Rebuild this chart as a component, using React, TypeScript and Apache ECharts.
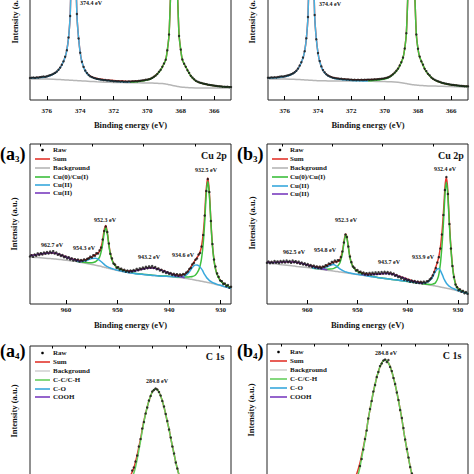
import React, { useEffect, useRef } from "react";
import * as echarts from "echarts";

// ---------------- tick values ----------------
const TOP_MAJOR = [366, 368, 370, 372, 374, 376];
const TOP_MINOR = [365, 367, 369, 371, 373, 375, 377];
const CU_MAJOR = [930, 940, 950, 960];
const CU_MINOR = [935, 945, 955, 965];
const C_MAJOR = [282, 284, 286, 288, 290];
const C_MINOR = [281, 283, 285, 287, 289, 291];

// ---------------- panel a2 (top left) ----------------
const A2_E = [377, 376.5, 376, 375.6, 375.3, 375.1, 374.9, 374.8, 374.7, 374.6, 374.5, 374.4, 374.3, 374.2, 374.1, 374.0, 373.9, 373.7, 373.4, 373, 372.5, 372, 371.5, 371, 370.5, 370, 369.7, 369.4, 369.2, 369.1, 368.9, 368.8, 368.7, 368.6, 368.5, 368.4, 368.3, 368.2, 368.1, 368.0, 367.9, 367.7, 367.6, 367.4, 367.1, 366.8, 366.3, 365.8, 365.4, 365];
const A2_BG = [21, 21, 21, 20.8, 20.5, 20.3, 20.1, 20, 19.9, 19.8, 19.7, 19.6, 19.5, 19.4, 19.3, 19.2, 19.1, 18.9, 18.6, 18.2, 17.8, 17.5, 17.4, 17.3, 17.2, 17, 16.9, 16.7, 16.5, 16.4, 16, 15.7, 15.3, 15, 14.6, 14.2, 13.9, 13.6, 13.3, 13, 12.8, 12.5, 12.4, 12.2, 12, 12, 12, 12, 12, 12];
const A2_BLUE = [21.9, 22.3, 23.2, 26, 30, 35, 43, 50, 62, 85, 150, 220, 150, 85, 62, 47, 38, 29, 23.5, 21, 19.8, 18.8, 18.2, 17.9];
const A2_GREEN = [17.8, 18.6, 20, 22, 26, 30, 33, 40, 50, 65, 110, 170, 240, 170, 110, 65, 50, 40, 33, 30, 24, 19, 17, 15, 13.8, 13.3, 13];
const A2_SUM = [22, 22.4, 23.3, 26.1, 30.1, 35.1, 43.1, 50.1, 62.1, 85.1, 150.1, 220, 150.1, 85.1, 62.1, 47.1, 38.1, 29.2, 23.8, 21.4, 20.3, 19.4, 18.9, 18.4, 18.9, 20.2, 22.2, 26.1, 30.1, 33.1, 40.1, 50, 65, 110, 170, 240, 170, 110, 65, 50, 40, 33, 30, 24, 19, 17, 15, 13.8, 13.3, 13];
const A2_RAW = [22, 22.3, 22.5, 22.1, 22.6, 22.4, 22.9, 23.1, 23.5, 23.3,
  23.8, 24.2, 24.9, 25.4, 26.3, 27.1, 28.4, 30.2, 32.4, 35.3,
  38.6, 43.2, 49.8, 62.5, 84, 148, 218, 152, 86, 61.5,
  47.3, 38.2, 33.1, 29.4, 27, 25, 23.6, 22.9, 22.1, 21.6,
  21.1, 20.9, 20.5, 20.3, 19.9, 20, 19.5, 19.6, 19.1, 19.2,
  18.8, 18.9, 18.6, 18.8, 18.4, 18.7, 18.3, 18.5, 18.3, 18.6,
  18.4, 18.7, 18.6, 18.9, 18.8, 19.1, 19.2, 19.6, 19.8, 20.2,
  20.4, 20.8, 21.3, 22.1, 23.2, 24.4, 26, 28.2, 30.3, 33.2,
  36.5, 40.3, 49.6, 65.5, 108, 168, 236, 172, 111, 64,
  50.4, 40.5, 36.2, 33.3, 29.8, 27.1, 24.2, 22.4, 20.7, 19.3,
  18.4, 17.6, 17.1, 16.6, 16.2, 15.9, 15.5, 15.1, 14.9, 14.6,
  14.4, 14.1, 13.9, 13.7, 13.6, 13.3, 13.3, 13.1, 13.2, 12.9,
  12.9];

// ---------------- panel b2 (top right) ----------------
const B2_BG = [21, 21, 21, 20.8, 20.6, 20.4, 20.2, 20.1, 20, 19.9, 19.8, 19.7, 19.6, 19.5, 19.4, 19.3, 19.3, 19.2, 19.1, 19, 19, 19, 18.9, 18.8, 18.6, 18.4, 18.2, 18, 17.7, 17.5, 17, 16.7, 16.4, 16.1, 15.8, 15.5, 15.3, 15.1, 14.9, 14.8, 14.6, 14.4, 14.3, 14.1, 14, 13.8, 13.5, 13.3, 13.1, 13];
const B2_BLUE = [21.9, 22.3, 23.2, 25.5, 29, 34, 42, 49, 61, 84, 150, 225, 150, 84, 61, 47, 38.5, 29.5, 24, 21.5, 20.3, 19.6, 19.2, 19];
const B2_GREEN = [19.2, 19.8, 21, 23, 27, 31, 34, 42, 51, 66, 110, 170, 240, 170, 110, 66, 51, 43, 35, 31, 26, 21, 18.5, 16, 14.8, 14, 13.6];
const B2_SUM = [22, 22.4, 23.3, 25.6, 29.1, 34.1, 42.1, 49.1, 61.1, 84.1, 150, 225, 150, 84, 61, 47.2, 38.7, 29.7, 24.3, 21.9, 20.8, 20.2, 20, 20.2, 20.5, 21.4, 23.3, 27.2, 31.2, 34.2, 42.2, 51.2, 66.2, 110, 170, 240, 170, 110, 66, 51, 43, 35, 31, 26, 21, 18.5, 16, 14.8, 14, 13.6];
const B2_RAW = [22.3, 22.1, 22.6, 22.4, 22.8, 22.5, 23, 23.2, 23.6, 23.5,
  23.9, 24.3, 24.8, 25.1, 25.9, 26.6, 27.8, 29.3, 31.4, 34.4,
  37.8, 42.4, 48.8, 61.6, 83, 147, 222, 151, 85, 60.8,
  46.9, 38.9, 33.6, 29.9, 27.6, 25.8, 24.5, 23.6, 22.9, 22.3,
  22, 21.6, 21.5, 21.1, 21.2, 20.8, 20.9, 20.5, 20.6, 20.2,
  20.4, 20, 20.3, 19.9, 20.2, 19.9, 20.2, 20, 20.3, 20.1,
  20.4, 20.2, 20.5, 20.4, 20.7, 20.6, 20.9, 21, 21.3, 21.4,
  21.7, 22.1, 22.6, 23.4, 24.5, 25.8, 27.4, 29.3, 31.4, 34.5,
  37.8, 42.4, 51.5, 66.8, 109, 169, 238, 171, 112, 65.5,
  51.2, 43.4, 38.6, 35.4, 31.3, 28.9, 26.3, 24.6, 22.5, 21.3,
  20.2, 19.4, 18.7, 18.1, 17.5, 17, 16.6, 16.2, 15.9, 15.6,
  15.3, 15.1, 14.9, 14.7, 14.5, 14.3, 14.1, 14, 13.8, 13.8,
  13.6];

// ---------------- panel a3 (Cu 2p, left) ----------------
const A3_E = [967, 966, 965, 964, 963, 962.7, 962, 961, 960, 959, 958, 957, 956, 955.5, 955, 954.3, 954, 953.5, 953.1, 952.9, 952.7, 952.5, 952.3, 952.1, 951.9, 951.7, 951.5, 951.3, 951, 950.5, 950, 949, 948, 947, 946, 945, 944, 943.2, 942, 941, 940, 939, 938, 937, 936.5, 936, 935.5, 935, 934.6, 934.2, 933.8, 933.5, 933.3, 933.1, 932.9, 932.7, 932.5, 932.3, 932.1, 931.9, 931.7, 931.5, 931.2, 930.9, 930.5, 930, 929.5, 929, 928.5, 928];
const A3_BG = [47, 46.6, 46.2, 45.8, 45.4, 45.3, 45, 44.4, 43.8, 43.1, 42.5, 41.5, 40.5, 40, 39.5, 38.8, 38.5, 37.9, 37.4, 37.1, 36.9, 36.6, 36.4, 36.1, 35.9, 35.6, 35.4, 35.1, 34.8, 34.1, 33.5, 32.5, 31.5, 30.7, 30, 29.5, 29, 28.6, 28, 27.7, 27.5, 27, 26.5, 25.8, 25.4, 25, 24.5, 24, 23.6, 23.2, 22.8, 22.5, 22.3, 22.1, 21.9, 21.7, 21.5, 21.3, 21.1, 20.9, 20.6, 20.4, 20, 19.6, 19.1, 18.5, 17.7, 17, 16.2, 15.5];
const A3_GREEN = [42.8, 42, 41.4, 41.2, 41.2, 42.3, 43.5, 46.9, 54.4, 60.1,
  67.9, 73.6, 76.4, 73.1, 66.9, 58.6, 52.4, 47.6, 42.8, 38.4,
  36.1, 33.6, 32.1, 31.1, 30.3, 29.7, 29.2, 28.8, 28.2, 28,
  27.8, 27.4, 27, 26.95, 26.9, 27.2, 27.5, 28.5, 30.9, 34.7,
  42.8, 54.5, 66.3, 82.1, 101.9, 115.7, 122.5, 115.3, 101.1, 80.9,
  64.6, 52.4, 40, 32.6, 27.1, 23, 20.7, 19.2, 17.7, 16.6];
const A3_CYAN = [42.8, 42.4, 43.4, 44.6, 45.5, 45.8, 45.3, 43.7, 42, 41,
  40.1, 39.2, 38.4, 37.7, 37.2, 36.6, 36.2, 35.7, 35.3, 34.4,
  33.7, 32.6, 31.6, 30.7, 30, 29.5, 29, 28.6, 28, 27.7,
  27.55, 27.2, 27.2, 28.1, 29.9, 32.8, 36.5, 38.8, 39.1, 38,
  35.6, 33.3, 31.1, 29.3, 27.9, 26.2, 25.1, 24.1, 23.1, 22.5,
  21.8, 21.3, 20.7, 20.1, 19.4, 18.7, 17.8, 17.05, 16.2, 15.5];
const A3_PURPLE1 = [48.5, 49.1, 49.9, 50.8, 51.2, 51.3, 50.6, 48.9, 47, 45.1, 43.7, 42.1];
const A3_PURPLE2 = [32.3, 32.7, 33.8, 35.1, 36, 36.1, 34.6, 32.7, 30.7, 28.8, 27.5, 26.3];
const A3_SUM = [48.5, 49.1, 49.9, 50.8, 51.2, 51.3, 50.6, 48.9, 47, 45.3,
  44.3, 43.5, 44.6, 46, 47.2, 49.3, 50.3, 52.7, 59, 64,
  71.1, 76.2, 78.4, 74.7, 68.2, 59.6, 53.2, 48.2, 43.3, 38.7,
  36.3, 34.1, 32.9, 33.1, 34.1, 35.2, 36.1, 36.25, 34.8, 33,
  31.05, 29.4, 28.8, 29.75, 31.4, 35, 39.5, 43.3, 46.4, 49.5,
  55.6, 65.3, 75.1, 89.3, 107.9, 120.2, 126.1, 118.1, 103.1, 82.5,
  65.8, 53.3, 40.7, 33.1, 27.4, 23.2, 20.8, 19.2, 17.7, 16.65];
const A3_RAW = [47.5, 48.8, 47.2, 49.5, 48.3, 50.6, 49, 50.8, 49.6, 51.5,
  50.2, 52, 50.5, 52.4, 51, 52.8, 50.4, 51.5, 49.2, 50,
  48.1, 48.9, 46.8, 47.6, 45.5, 46.8, 44.6, 45.7, 43.5, 44.8,
  43.2, 44.5, 42.6, 44, 43.1, 44.6, 43.5, 45.2, 45.6, 47.3,
  46.5, 48.8, 48.3, 50.8, 50.5, 53.6, 56.4, 64.5, 73, 77.5,
  72, 60.5, 50.2, 45.6, 40.5, 39.4, 36.2, 36.8, 34.5, 35.3,
  33.4, 34.2, 32.3, 33.5, 32, 33.4, 32.6, 34, 33.2, 35.1,
  33.8, 35.6, 34.7, 36.4, 35.3, 37.2, 35.8, 37.6, 36.3, 37.9,
  36.1, 37, 34.8, 35.6, 33.5, 34.2, 32.1, 33, 31, 31.8,
  30.2, 30.9, 29.1, 30.2, 28.6, 29.8, 28.2, 29.6, 28.6, 30,
  29.4, 31.3, 32.4, 35, 36.2, 39.6, 41.1, 44.2, 45.5, 49.5,
  51, 57.5, 69, 88.5, 113, 125, 112, 83, 60, 44.5,
  37.5, 30.6, 27.2, 23.5, 22.8, 20.1, 20.4, 17.8, 18.9, 16.3,
  17.2];

// ---------------- panel b3 (Cu 2p, right) ----------------
const B3_E = [968, 967, 966, 965, 964, 963, 962.5, 962, 961, 960, 959, 958, 957, 956, 955.5, 954.8, 954.3, 954, 953.5, 953.1, 952.9, 952.7, 952.5, 952.3, 952.1, 951.9, 951.7, 951.5, 951.3, 951, 950.5, 950, 949, 948, 947, 946, 945, 944, 943.7, 943, 942, 941, 940, 939, 938, 937, 936.5, 936, 935.5, 935, 934.5, 933.9, 933.5, 933.2, 933, 932.8, 932.6, 932.5, 932.3, 932.1, 932, 931.8, 931.6, 931.4, 931.1, 930.8, 930.4, 930, 929.5, 929, 928.5, 928];
const B3_BG = [41, 40.4, 39.9, 39.3, 38.8, 38.2, 37.9, 37.6, 37.1, 36.5, 35.8, 35.1, 34.4, 33.8, 33.4, 32.9, 32.6, 32.4, 32, 31.8, 31.6, 31.5, 31.3, 31.2, 31.1, 30.9, 30.8, 30.6, 30.5, 30.3, 29.9, 29.5, 28.8, 28, 27.3, 26.5, 25.8, 25.2, 25, 24.5, 23.8, 23.2, 22.5, 21.7, 20.9, 20.1, 19.7, 19.3, 18.9, 18.5, 18, 17.4, 17, 16.7, 16.5, 16.3, 16.1, 16, 15.8, 15.6, 15.5, 15.3, 15.1, 14.9, 14.6, 14.2, 13.6, 13, 12.4, 11.8, 11.1, 10.5];
const B3_GREEN = [36.05, 35.4, 34.9, 34.8, 34.9, 35.4, 36.6, 37.6, 41, 47.8,
  53.6, 60.5, 66.3, 69.2, 66.1, 59.9, 52.8, 46.6, 42.5, 38.3,
  34.7, 32.7, 30.3, 28.8, 27.8, 26.6, 25.9, 25.3, 25.1, 24.6,
  23.9, 23.3, 22.6, 21.7, 21, 20.25, 19.9, 19.65, 19.6, 19.9,
  21, 27.4, 40, 56.7, 71.5, 89.3, 108.1, 115, 121.8, 114.6,
  107.5, 88.3, 70.1, 54.9, 37.6, 26.7, 18.6, 15.5, 13.6, 12.4,
  11.4, 10.7];
const B3_CYAN = [36, 35.55, 35.6, 37.3, 38.5, 39.4, 38.4, 37.2, 35.2, 34,
  33.3, 32.9, 32.4, 32, 31.8, 31.45, 31.25, 31, 30.85, 30.6,
  30.1, 29.65, 28.9, 28, 27.3, 26.5, 25.8, 25.2, 25, 24.5,
  23.9, 23.3, 22.65, 21.9, 21.3, 21.1, 21.3, 22.1, 23.9, 27.5,
  32.5, 35.4, 33.5, 30.2, 28, 25.3, 23.4, 22.5, 20.8, 19.6,
  19.1, 18.1, 17.3, 16.7, 15.9, 15.2, 14.3, 13.45, 12.7, 12,
  11.2, 10.6];
const B3_PURPLE1 = [41.8, 41.6, 41.7, 41.9, 42.2, 42.1, 41.9, 41.5, 40.5, 39.1, 37.6, 36.3, 35.1, 34.2];
const B3_PURPLE2 = [29.4, 29.2, 29.5, 29.8, 30.4, 30.6, 30.5, 29.7, 28, 26.2, 24.4, 22.8, 21.5, 20.4];
const B3_SUM = [41.8, 41.6, 41.7, 41.9, 42.2, 42.1, 42, 41.6, 40.6, 39.2,
  38.05, 37.05, 36.8, 38.7, 40.2, 41.9, 42.4, 42.4, 44.2, 50,
  55.3, 61.9, 67.4, 70, 66.8, 60.45, 53.25, 47, 42.85, 38.6,
  34.9, 33.15, 31, 30, 30, 30.1, 30.6, 30.8, 30.7, 29.95,
  28.4, 26.6, 24.85, 23, 22, 21.55, 21.5, 22.45, 24.6, 28.9,
  35.5, 45.4, 56.5, 70.2, 83, 98.3, 115.4, 121.5, 126.8, 118.6,
  111.1, 91.1, 72.3, 56.7, 38.9, 27.7, 19.3, 15.95, 13.9, 12.6,
  11.5, 10.8];
const B3_RAW = [41.2, 42.5, 40.8, 42.2, 41, 42.9, 41.3, 42.6, 40.9, 43,
  41.6, 43.2, 41.5, 43.4, 41.8, 42.9, 41.2, 43.5, 41.7, 42.8,
  41, 42.3, 40.2, 41.5, 39.6, 40.7, 38.8, 39.9, 37.8, 38.9,
  37.2, 38.3, 36.4, 37.6, 36.1, 37.3, 35.8, 37.5, 37.1, 38.8,
  38.2, 40.5, 39.8, 42.1, 41.3, 43.4, 42, 43.8, 43.6, 47,
  52.5, 61.5, 69.5, 67, 57.5, 47.5, 41.8, 37.5, 36.2, 33.4,
  33.9, 31.6, 32.3, 30.4, 31.5, 29.6, 30.8, 29.2, 31.1, 29.5,
  31.3, 29.8, 31.6, 29.9, 31.7, 30.2, 32, 30.4, 32.2, 30.6,
  31.9, 30.1, 31.5, 29.6, 30.4, 28.2, 29, 26.9, 27.5, 25.6,
  26.5, 24.3, 25.2, 23.4, 24.2, 22.3, 23.4, 21.8, 22.9, 21.2,
  22.5, 20.9, 22.2, 20.8, 22.3, 21, 22.7, 22.8, 24.6, 25.8,
  28.6, 32, 36, 41.5, 46.8, 55.5, 69.5, 89, 114, 127,
  110, 80, 55.5, 38, 27, 19.5, 16.8, 13.8, 14.6, 12.2,
  13.1, 10.8, 11.9, 10.2];

// ---------------- panel a4 (C 1s, left) ----------------
const A4_E = [287, 286.8, 286.6, 286.4, 286.2, 286.1, 286.0, 285.9, 285.8, 285.7, 285.6, 285.5, 285.4, 285.3, 285.2, 285.1, 285.0, 284.9, 284.8, 284.7, 284.6, 284.5, 284.4, 284.3, 284.2, 284.1, 284.0, 283.9, 283.8, 283.7, 283.6, 283.5, 283.4, 283.2, 283.0, 282.8];
const A4_GREEN = [-28, -20, -14, -6, 1, 5, 11, 19, 28, 37, 47, 56, 64, 71, 77, 82, 86, 88.3, 89, 88.3, 86, 82, 77, 71, 64, 56, 49, 40, 32, 24, 16, 9, 3, -8, -18, -28];
const A4_SUM = [-18, -12, -6, -1, 6, 10, 16, 23, 31, 39, 48.5, 57, 64.2, 71.1, 77, 82, 86, 88.3, 89, 88.3, 86, 82, 77, 71, 64, 56, 49, 40, 32, 24, 16, 9, 3, -8, -18, -28];
const A4_MINOR_E = [289, 287.5, 286.3, 285.2, 284];
const A4_CO = [-97, -85, -62, -85, -97];
const A4_COOH = [-98, -90, -96, -98, -98];
const A4_BG_E = [292.3, 280.3];
const A4_BG = [-98, -99];
const A4_RAW = [2, 7.5, 10.5, 16.5, 22.5, 31.5, 39, 49.5, 56, 64.5, 70.5, 77.5, 82, 86.5, 88, 89.5, 88.5, 86, 82.5, 77, 71.5, 64, 57, 48.5, 40.5, 31.5, 24.5, 15.5, 9.5, 2.5, -4];

// ---------------- panel b4 (C 1s, right) ----------------
const B4_E = [287, 286.8, 286.6, 286.5, 286.4, 286.3, 286.2, 286.1, 286.0, 285.9, 285.8, 285.7, 285.6, 285.5, 285.4, 285.3, 285.2, 285.1, 285.0, 284.9, 284.8, 284.7, 284.6, 284.5, 284.4, 284.3, 284.2, 284.1, 284.0, 283.9, 283.8, 283.7, 283.6, 283.5, 283.4, 283.3, 283.2, 283.1, 283.0, 282.8, 282.6];
const B4_GREEN = [-22, -12, -4, -2, 4, 11, 20, 29, 38, 48, 59.5, 68.5, 77.5, 86, 93.5, 100.5, 106.5, 111.5, 115, 117.2, 118, 117.2, 115, 111.5, 106.5, 100.5, 93.5, 86, 77.5, 68.5, 59.5, 48, 38, 29, 20, 11, 4, -2, -6, -12, -22];
const B4_SUM = [-14, -5, 1, 4, 9, 15, 22.5, 30.5, 39, 48.5, 59.8, 68.6, 77.5, 86, 93.5, 100.5, 106.5, 111.5, 115, 117.2, 118, 117.2, 115, 111.5, 106.5, 100.5, 93.5, 86, 77.5, 68.5, 59.5, 48, 38, 29, 20, 11, 4, -2, -6, -12, -22];
const B4_MINOR_E = [289, 287.5, 286.3, 285.2, 284];
const B4_CO = [-97, -84, -60, -84, -97];
const B4_COOH = [-98, -89, -96, -98, -98];
const B4_BG_E = [291.85, 279.85];
const B4_BG = [-98, -99];
const B4_RAW = [3, 12, 19, 28.5, 39, 47.5, 59.5, 69, 77, 86.5, 93, 101, 106, 112, 114.5, 117.5, 118.5, 116, 118, 111, 107, 100, 94, 85.5, 78, 68, 60, 50, 38.5, 29, 20.5, 11, 4.5];

// ---------------- styling ----------------
const FONT = '"Liberation Serif", "Times New Roman", serif';
const INK = "#141414";
const RED = "#e3352c";
const GRAY = "#b6b6b6";
const LGRAY = "#d2d2d2";
const GREEN = "#3dbf3d";
const LGREEN = "#66cf5f";
const CYAN = "#38a8dc";
const PURPLE = "#7a3dbf";
const TBLUE = "#45b3e2";
const TGREEN = "#43c243";

const energies = (start: number, step: number, n: number) =>
  Array.from({ length: n }, (_, i) => Math.round((start - step * i) * 100) / 100);

function line(gi: number, name: string, xs: number[], ys: number[], color: string, z: number, width = 1.5) {
  return {
    type: "line",
    name,
    xAxisIndex: gi * 2,
    yAxisIndex: gi,
    data: xs.map((x, i) => [x, ys[i]]),
    showSymbol: false,
    symbol: "none",
    smooth: 0.25,
    clip: true,
    silent: true,
    lineStyle: { color, width },
    itemStyle: { color },
    z,
  };
}

function raw(gi: number, xs: number[], ys: number[], size = 2.4) {
  return {
    type: "scatter",
    name: "Raw",
    xAxisIndex: gi * 2,
    yAxisIndex: gi,
    data: xs.map((x, i) => [x, ys[i]]),
    symbol: "circle",
    symbolSize: size,
    clip: true,
    silent: true,
    itemStyle: { color: "#111" },
    z: 10,
  };
}

function xAxes(gi: number, min: number, max: number, major: number[], minor: number[], margin: number, showLabels = true) {
  const base = {
    gridIndex: gi,
    type: "value",
    min,
    max,
    inverse: true,
    splitLine: { show: false },
    axisLine: { show: false },
  };
  return [
    {
      ...base,
      axisTick: { show: true, inside: true, length: 4, customValues: major, lineStyle: { color: "#000", width: 1 } },
      axisLabel: { show: showLabels, customValues: major, margin, fontFamily: FONT, fontWeight: "bold", fontSize: 7, color: INK },
    },
    {
      ...base,
      axisTick: { show: true, inside: true, length: 2.5, customValues: minor, lineStyle: { color: "#000", width: 1 } },
      axisLabel: { show: false },
    },
  ];
}

function txt(text: string, x: number, y: number, size: number, align = "center", rotation = 0) {
  return {
    type: "text",
    x,
    y,
    rotation,
    silent: true,
    style: {
      text,
      font: `bold ${size}px ${FONT}`,
      fill: INK,
      textAlign: align,
      textVerticalAlign: "middle",
    },
  };
}

function letter(main: string, sub: string, x: number, y: number) {
  return {
    type: "text",
    x,
    y,
    silent: true,
    style: {
      text: `{m|(${main}}{s|${sub}}{m|)}`,
      textAlign: "left",
      textVerticalAlign: "middle",
      fill: "#000",
      rich: {
        m: { font: `bold 18px ${FONT}`, fill: "#000" },
        s: { font: `bold 9px ${FONT}`, fill: "#000", verticalAlign: "bottom", padding: [6, 0, 0, 0] },
      },
    },
  };
}

function legend(x1: number, x2: number, tx: number, ys: number[], items: { name: string; color: string }[]) {
  const out: any[] = [];
  items.forEach((it, i) => {
    const y = ys[i];
    if (it.name === "Raw") {
      out.push({ type: "circle", silent: true, shape: { cx: (x1 + x2) / 2, cy: y, r: 1.3 }, style: { fill: "#000" } });
    } else {
      out.push({ type: "line", silent: true, shape: { x1, y1: y, x2, y2: y }, style: { stroke: it.color, lineWidth: 1.6 } });
    }
    out.push(txt(it.name, tx, y, 7, "left"));
  });
  return out;
}

const CU_ITEMS = [
  { name: "Raw", color: "#000" },
  { name: "Sum", color: RED },
  { name: "Background", color: GRAY },
  { name: "Cu(0)/Cu(I)", color: GREEN },
  { name: "Cu(II)", color: CYAN },
  { name: "Cu(II)", color: PURPLE },
];
const C_ITEMS = [
  { name: "Raw", color: "#000" },
  { name: "Sum", color: RED },
  { name: "Background", color: LGRAY },
  { name: "C-C/C-H", color: LGREEN },
  { name: "C-O", color: CYAN },
  { name: "COOH", color: PURPLE },
];

function buildOption() {
  const grids = [
    { left: 30, top: -150, width: 201, height: 250 },
    { left: 268, top: -150, width: 200, height: 250 },
    { left: 30, top: 144, width: 201, height: 160 },
    { left: 267, top: 144, width: 201, height: 160 },
    { left: 30, top: 346, width: 201, height: 232 },
    { left: 267, top: 344, width: 201, height: 234 },
  ].map((g) => ({
    ...g,
    show: true,
    borderColor: "#222",
    borderWidth: 1,
    backgroundColor: "transparent",
    containLabel: false,
    outerBoundsMode: "none",
  }));

  const yRanges = [[0, 250], [0, 250], [0, 160], [0, 160], [-100, 132], [-100, 134]];
  const yAxis = yRanges.map((r, i) => ({ gridIndex: i, type: "value", min: r[0], max: r[1], show: false }));

  const xAxis = [
    ...xAxes(0, 365, 377, TOP_MAJOR, TOP_MINOR, 7),
    ...xAxes(1, 365, 377, TOP_MAJOR, TOP_MINOR, 7),
    ...xAxes(2, 928, 967, CU_MAJOR, CU_MINOR, 2.5),
    ...xAxes(3, 928, 968, CU_MAJOR, CU_MINOR, 2.5),
    ...xAxes(4, 280.3, 292.3, C_MAJOR, C_MINOR, 3, false),
    ...xAxes(5, 279.85, 291.85, C_MAJOR, C_MINOR, 3, false),
  ];

  const rawTop = energies(377, 0.1, 121);

  const series: any[] = [
    // a2
    line(0, "Sum", A2_E, A2_SUM, RED, 1),
    line(0, "Background", A2_E, A2_BG, GRAY, 2),
    line(0, "Component 1", A2_E.slice(0, 24), A2_BLUE, TBLUE, 3),
    line(0, "Component 2", A2_E.slice(23), A2_GREEN, TGREEN, 3),
    raw(0, rawTop, A2_RAW),
    // b2
    line(1, "Sum", A2_E, B2_SUM, RED, 1),
    line(1, "Background", A2_E, B2_BG, GRAY, 2),
    line(1, "Component 1", A2_E.slice(0, 24), B2_BLUE, TBLUE, 3),
    line(1, "Component 2", A2_E.slice(23), B2_GREEN, TGREEN, 3),
    raw(1, rawTop, B2_RAW),
    // a3
    line(2, "Sum", A3_E, A3_SUM, RED, 1),
    line(2, "Background", A3_E, A3_BG, GRAY, 2),
    line(2, "Cu(0)/Cu(I)", A3_E.slice(10), A3_GREEN, GREEN, 3),
    line(2, "Cu(II)", A3_E.slice(10), A3_CYAN, CYAN, 4),
    line(2, "Cu(II) sat", A3_E.slice(0, 12), A3_PURPLE1, PURPLE, 5),
    line(2, "Cu(II) sat", A3_E.slice(32, 44), A3_PURPLE2, PURPLE, 5),
    raw(2, energies(967, 0.3, 131), A3_RAW, 2.5),
    // b3
    line(3, "Sum", B3_E, B3_SUM, RED, 1),
    line(3, "Background", B3_E, B3_BG, GRAY, 2),
    line(3, "Cu(0)/Cu(I)", B3_E.slice(10), B3_GREEN, GREEN, 3),
    line(3, "Cu(II)", B3_E.slice(10), B3_CYAN, CYAN, 4),
    line(3, "Cu(II) sat", B3_E.slice(0, 14), B3_PURPLE1, PURPLE, 5),
    line(3, "Cu(II) sat", B3_E.slice(32, 46), B3_PURPLE2, PURPLE, 5),
    raw(3, energies(968, 0.3, 134), B3_RAW, 2.5),
    // a4
    line(4, "Background", A4_BG_E, A4_BG, LGRAY, 1),
    line(4, "C-O", A4_MINOR_E, A4_CO, CYAN, 1),
    line(4, "COOH", A4_MINOR_E, A4_COOH, PURPLE, 1),
    line(4, "Sum", A4_E, A4_SUM, RED, 2),
    line(4, "C-C/C-H", A4_E, A4_GREEN, LGREEN, 3),
    raw(4, energies(286.3, 0.1, 31), A4_RAW, 2.5),
    // b4
    line(5, "Background", B4_BG_E, B4_BG, LGRAY, 1),
    line(5, "C-O", B4_MINOR_E, B4_CO, CYAN, 1),
    line(5, "COOH", B4_MINOR_E, B4_COOH, PURPLE, 1),
    line(5, "Sum", B4_E, B4_SUM, RED, 2),
    line(5, "C-C/C-H", B4_E, B4_GREEN, LGREEN, 3),
    raw(5, energies(286.4, 0.1, 33), B4_RAW, 2.5),
  ];

  const graphic: any[] = [
    // axis names
    txt("Binding energy (eV)", 130.5, 125, 8.5),
    txt("Binding energy (eV)", 368, 125, 8.5),
    txt("Binding energy (eV)", 130.5, 325, 8.5),
    txt("Binding energy (eV)", 367.5, 325, 8.5),
    txt("Intensity (a.u.)", 15, 17, 8.5, "center", Math.PI / 2),
    txt("Intensity (a.u.)", 252, 17, 8.5, "center", Math.PI / 2),
    txt("Intensity (a.u.)", 14, 224, 8.5, "center", Math.PI / 2),
    txt("Intensity (a.u.)", 252, 223, 8.5, "center", Math.PI / 2),
    txt("Intensity (a.u.)", 14, 411, 8.5, "center", Math.PI / 2),
    txt("Intensity (a.u.)", 251, 410, 8.5, "center", Math.PI / 2),
    // peak labels
    txt("374.4 eV", 91, 3, 6),
    txt("374.4 eV", 330, 4, 6),
    txt("962.7 eV", 52, 245, 6),
    txt("954.3 eV", 84, 248, 6),
    txt("952.3 eV", 105, 220, 6),
    txt("943.2 eV", 149, 257, 6),
    txt("934.6 eV", 183, 255, 6),
    txt("932.5 eV", 206, 170, 6),
    txt("962.5 eV", 294, 252, 6),
    txt("954.8 eV", 325, 250, 6),
    txt("952.3 eV", 346, 220, 6),
    txt("943.7 eV", 389, 262, 6),
    txt("933.9 eV", 423, 257, 6),
    txt("932.4 eV", 445, 169, 6),
    txt("284.8 eV", 157, 381, 6),
    txt("284.8 eV", 386, 353, 6),
    // element labels
    txt("Cu 2p", 214, 155, 10),
    txt("Cu 2p", 451, 155, 10),
    txt("C 1s", 215, 356, 10),
    txt("C 1s", 452, 355, 10),
    // panel letters
    letter("a", "3", 0, 154),
    letter("b", "3", 237, 154),
    letter("a", "4", 0, 351),
    letter("b", "4", 237, 351),
    // legends
    ...legend(35, 50, 53, [150, 159, 168, 177, 185, 193], CU_ITEMS),
    ...legend(272, 288, 290, [150, 159, 168, 177, 186, 194], CU_ITEMS),
    ...legend(35, 50, 53, [353, 362, 371, 380, 389, 397], C_ITEMS),
    ...legend(270, 287, 290, [352, 361, 370, 379, 388, 397], C_ITEMS),
  ];

  return {
    animation: false,
    backgroundColor: "#ffffff",
    textStyle: { fontFamily: FONT },
    grid: grids,
    xAxis,
    yAxis,
    series,
    graphic: { elements: graphic },
  };
}

export default function App() {
  const ref = useRef<HTMLDivElement>(null);
  useEffect(() => {
    if (!ref.current) return;
    const chart = echarts.init(ref.current, undefined, { renderer: "svg" });
    chart.setOption(buildOption() as any);
    return () => chart.dispose();
  }, []);
  return (
    <div
      ref={ref}
      style={{ position: "fixed", left: 0, top: 0, width: 474, height: 474, background: "#fff" }}
    />
  );
}
